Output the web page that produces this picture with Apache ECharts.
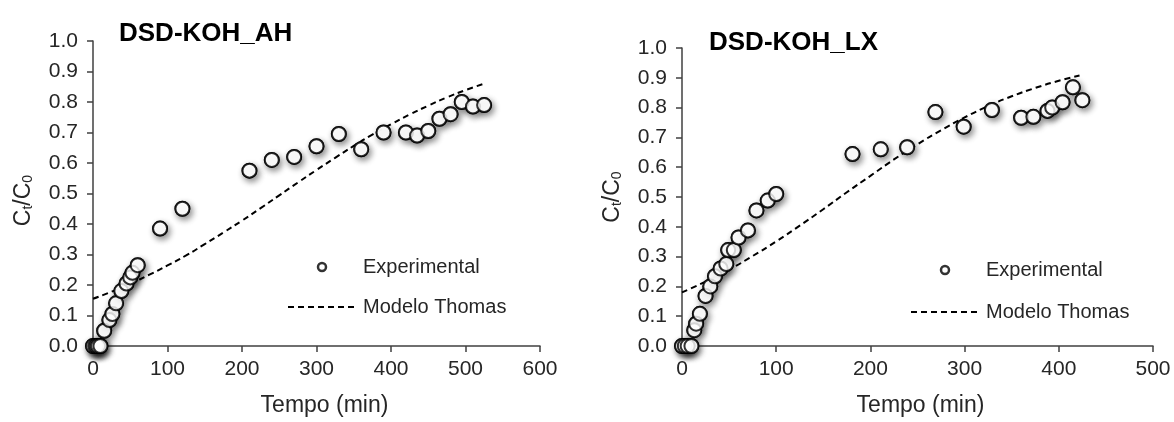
<!DOCTYPE html>
<html>
<head>
<meta charset="utf-8">
<script src="https://cdn.jsdelivr.net/npm/echarts@6/dist/echarts.min.js"></script>
<style>
  html, body { margin: 0; padding: 0; background: #fff; }
  #chart { width: 1174px; height: 422px; }
</style>
</head>
<body>
<div id="chart"></div>
<script>
// ---- Data ----
const titles = ['DSD-KOH_AH', 'DSD-KOH_LX'];
const seriesNames = ['Experimental', 'Modelo Thomas'];

// DSD-KOH_AH experimental points
const ahTime = [0, 3, 5, 7, 10, 15, 22, 26, 31, 38, 45, 50, 53, 60, 90, 120, 210, 240, 270, 300, 330, 360, 390, 420, 435, 450, 465, 480, 495, 510, 525];
const ahExp  = [0, 0, 0, 0, 0, 0.05, 0.085, 0.105, 0.14, 0.18, 0.205, 0.225, 0.24, 0.265, 0.385, 0.45, 0.575, 0.61, 0.62, 0.655, 0.695, 0.645, 0.70, 0.70, 0.69, 0.705, 0.745, 0.76, 0.80, 0.785, 0.79];
// DSD-KOH_AH Thomas model curve
const ahModelTime = [0, 25, 50, 75, 100, 125, 150, 175, 200, 225, 250, 275, 300, 325, 350, 375, 400, 425, 450, 475, 500, 525];
const ahModel     = [0.155, 0.178, 0.204, 0.233, 0.264, 0.297, 0.334, 0.372, 0.411, 0.452, 0.494, 0.536, 0.577, 0.617, 0.656, 0.693, 0.727, 0.759, 0.788, 0.815, 0.839, 0.860];

// DSD-KOH_LX experimental points
const lxTime = [0, 3, 6, 10, 13, 15, 19, 25, 30, 35, 41, 47, 49, 55, 60, 70, 79, 91, 100, 181, 211, 239, 269, 299, 329, 360, 373, 388, 393, 404, 415, 425];
const lxExp  = [0, 0, 0, 0, 0.053, 0.075, 0.108, 0.168, 0.20, 0.234, 0.26, 0.275, 0.322, 0.322, 0.364, 0.388, 0.455, 0.488, 0.51, 0.644, 0.66, 0.667, 0.785, 0.736, 0.792, 0.766, 0.769, 0.789, 0.80, 0.818, 0.868, 0.825];
// DSD-KOH_LX Thomas model curve
const lxModelTime = [0, 25, 50, 75, 100, 125, 150, 175, 200, 225, 250, 275, 300, 325, 350, 375, 400, 422];
const lxModel     = [0.180, 0.216, 0.256, 0.302, 0.351, 0.404, 0.459, 0.516, 0.571, 0.626, 0.677, 0.724, 0.767, 0.805, 0.838, 0.866, 0.890, 0.908];

const xMax = [600, 500];
const xInterval = 100;
const yMax = 1.0;
const yInterval = 0.1;

// ---- Styling ----
const FONT = '"Liberation Sans", Arial, sans-serif';
const TXT = '#262626';
const AXC = '#404040';

function pairs(xs, ys) { return xs.map((x, i) => [x, ys[i]]); }

const grids = [
  { left: 93, top: 41, width: 447, height: 308 },
  { left: 682, top: 48, width: 471, height: 303 }
];

function xAxisFor(i, pad) {
  return {
    type: 'value', gridIndex: i, min: 0, max: xMax[i], interval: xInterval,
    name: 'Tempo (min)', nameLocation: 'middle', nameGap: 48,
    nameTextStyle: { fontFamily: FONT, fontSize: 23, color: TXT, padding: pad },
    axisLine: { show: true, lineStyle: { color: AXC, width: 1.5 } },
    axisTick: { show: true, inside: false, length: 6, lineStyle: { color: AXC, width: 1.5 } },
    axisLabel: { fontFamily: FONT, fontSize: 21, color: TXT, margin: 13 },
    splitLine: { show: false }
  };
}
function yAxisFor(i, gap, pad) {
  return {
    type: 'value', gridIndex: i, min: 0, max: yMax, interval: yInterval,
    name: 'C{sub|t}/C{sub|0}', nameLocation: 'middle', nameGap: gap,
    nameTextStyle: {
      fontFamily: FONT, fontSize: 23, color: TXT, lineHeight: 23, padding: pad,
      rich: { sub: { fontFamily: FONT, fontSize: 14, color: TXT, verticalAlign: 'bottom', lineHeight: 11 } }
    },
    axisLine: { show: true, lineStyle: { color: AXC, width: 1.5 } },
    axisTick: { show: true, inside: false, length: 6, lineStyle: { color: AXC, width: 1.5 } },
    axisLabel: { fontFamily: FONT, fontSize: 21, color: TXT, margin: 15, formatter: v => v.toFixed(1) },
    splitLine: { show: false }
  };
}

const markStyle = { color: '#ffffff', borderColor: '#000000', borderWidth: 2 };
const shadowStyle = {
  color: '#ffffff', borderColor: '#000000', borderWidth: 2,
  shadowBlur: 6, shadowOffsetX: 2, shadowOffsetY: 3, shadowColor: 'rgba(0,0,0,0.55)'
};
const lineStyle = { color: '#000000', width: 2, type: [6, 4] };

function modelSeries(i, xs, ys) {
  return {
    name: seriesNames[1], type: 'line', xAxisIndex: i, yAxisIndex: i,
    data: pairs(xs, ys), symbol: 'none', smooth: true, z: 2,
    lineStyle: lineStyle, itemStyle: { color: '#000' }, silent: true
  };
}
function shadowSeries(i, xs, ys) {
  return {
    name: 'shadow' + i, type: 'scatter', xAxisIndex: i, yAxisIndex: i,
    data: pairs(xs, ys), symbol: 'circle', symbolSize: 14, z: 3, silent: true,
    itemStyle: shadowStyle
  };
}
function expSeries(i, xs, ys) {
  return {
    name: seriesNames[0], type: 'scatter', xAxisIndex: i, yAxisIndex: i,
    data: pairs(xs, ys), symbol: 'circle', symbolSize: 14, z: 4,
    itemStyle: markStyle
  };
}

function legendFor(left, top, gap) {
  return {
    orient: 'vertical', left: left, top: top, itemGap: gap,
    itemWidth: 68, itemHeight: 8,
    data: [
      { name: seriesNames[0], icon: 'circle', itemStyle: { color: '#fff', borderColor: '#000', borderWidth: 2.5 } },
      { name: seriesNames[1], itemStyle: { color: 'rgba(0,0,0,0)', borderColor: 'rgba(0,0,0,0)', borderWidth: 0, opacity: 0 } }
    ],
    textStyle: { fontFamily: FONT, fontSize: 20, color: TXT, lineHeight: 20, padding: [0, 0, 0, 2] },
    selectedMode: false
  };
}

const option = {
  backgroundColor: '#ffffff',
  animation: false,
  title: [
    { text: titles[0], left: 114, top: 16, textStyle: { fontFamily: FONT, fontSize: 26, fontWeight: 'bold', color: '#000' } },
    { text: titles[1], left: 704, top: 25, textStyle: { fontFamily: FONT, fontSize: 26, fontWeight: 'bold', color: '#000' } }
  ],
  legend: [ legendFor(282, 252, 20), legendFor(905, 255, 22) ],
  grid: grids,
  xAxis: [ xAxisFor(0, [0, 0, 0, 16]), xAxisFor(1, [0, 0, 0, 6]) ],
  yAxis: [ yAxisFor(0, 58, [0, 14, 0, 0]), yAxisFor(1, 58, [0, 0, 0, 0]) ],
  series: [
    modelSeries(0, ahModelTime, ahModel),
    shadowSeries(0, ahTime, ahExp),
    expSeries(0, ahTime, ahExp),
    modelSeries(1, lxModelTime, lxModel),
    shadowSeries(1, lxTime, lxExp),
    expSeries(1, lxTime, lxExp)
  ]
};

const chart = echarts.init(document.getElementById('chart'), null, { renderer: 'canvas' });
chart.setOption(option);
</script>
</body>
</html>
